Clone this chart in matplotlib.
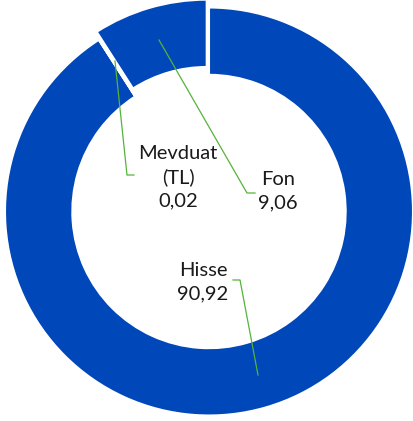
import matplotlib.pyplot as plt

# portfolio split (%)
labels = ['Hisse', 'Mevduat\n(TL)', 'Fon']
values = [90.92, 0.02, 9.06]
value_text = ['90,92', '0,02', '9,06']

# label block centres and leader lines, in image pixels (414 x 421)
label_pos = [(203, 282), (178, 177), (278, 191)]
leaders = [
    [(258, 375), (240, 280), (233, 280)],
    [(115, 61), (127, 175), (134, 175)],
    [(159, 40), (247, 193), (255, 193)],
]

W, H = 414, 421
cx, cy, R = 209, 211.5, 204.0


def px(p):
    # pixel -> data coords (pie centre at 0,0, outer radius 1)
    return (p[0] - cx) / R, (cy - p[1]) / R


fig = plt.figure(figsize=(W / 100, H / 100), dpi=100)
ax = fig.add_axes([0, 0, 1, 1])

ax.pie(values, startangle=90, counterclock=False, radius=1.0,
       explode=[0, 0, 0.04], colors=['#0047BA'] * 3,
       wedgeprops=dict(width=0.33, edgecolor='white', linewidth=1.5))

for lab, val, pos, line in zip(labels, value_text, label_pos, leaders):
    x, y = px(pos)
    ax.text(x, y, lab + '\n' + val, ha='center', va='center',
            fontsize=14.5, family='Lato', color='#1a1a1a', linespacing=1.42)
    pts = [px(p) for p in line]
    ax.plot([p[0] for p in pts], [p[1] for p in pts], color='#55B33A', lw=0.9)

ax.set_xlim(-cx / R, (W - cx) / R)
ax.set_ylim(-(H - cy) / R, cy / R)
ax.set_aspect('equal')
ax.axis('off')

plt.savefig('out.png', dpi=100)
